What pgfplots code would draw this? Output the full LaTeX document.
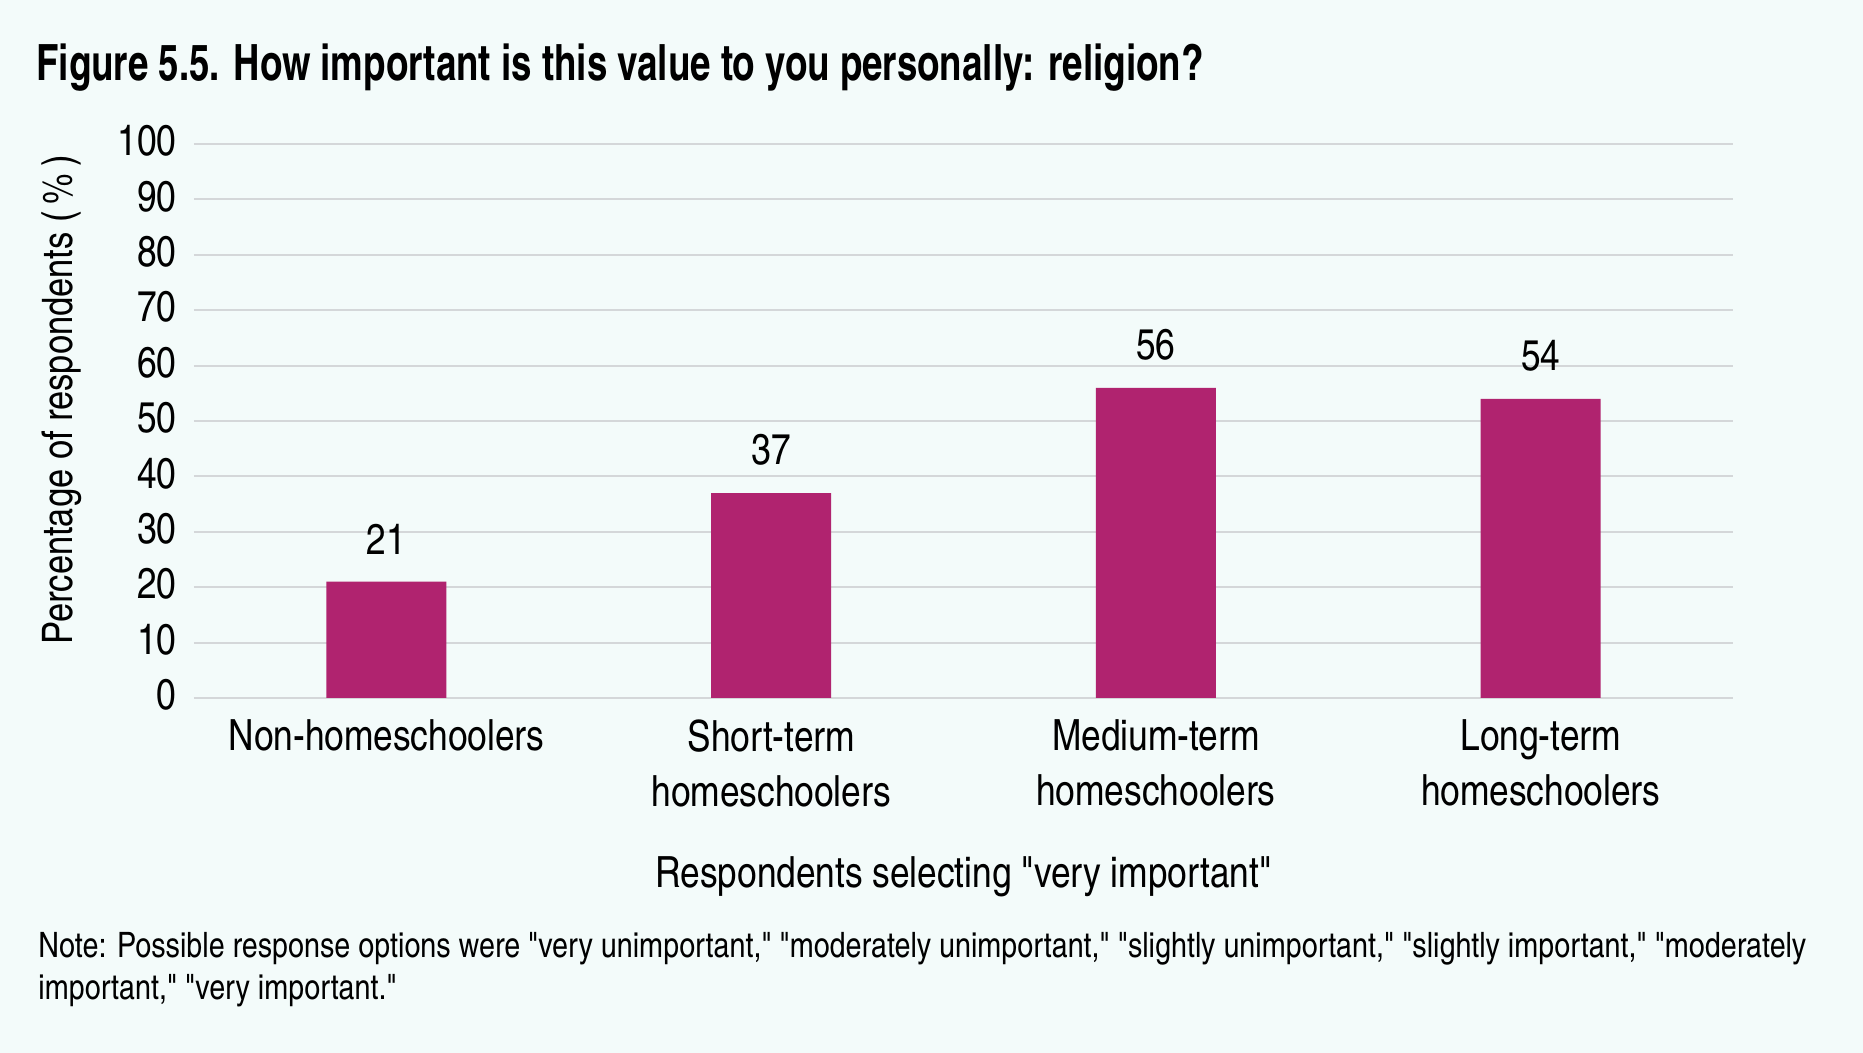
\documentclass[border=0pt]{standalone}
\usepackage{fontspec}
\newfontfamily\cn{texgyreheroscn}[Extension=.otf, UprightFont=*-regular, BoldFont=*-bold, ItalicFont=*-italic, BoldItalicFont=*-bolditalic]
\newfontfamily\cnt{texgyreheroscn}[Extension=.otf, UprightFont=*-bold, FakeStretch=0.895]
\usepackage{pgfplots}
\pgfplotsset{compat=1.18}
\definecolor{bgc}{HTML}{F3FBFA}
\definecolor{barc}{HTML}{B0236F}
\definecolor{gridc}{HTML}{D4D7D9}
\newcommand{\lab}{\cn\fontsize{21.5}{27.5}\selectfont}
\begin{document}
\cn
\begin{tikzpicture}
\useasboundingbox (0,0) rectangle (931.5pt,526.5pt);
\fill[bgc] (0,0) rectangle (931.5pt,526.5pt);
\begin{axis}[
  scale only axis,
  width=769.5pt, height=277pt,
  at={(97pt,177.5pt)}, anchor=south west,
  xmin=-0.5, xmax=3.5, ymin=0, ymax=100,
  ytick={0,10,...,100},
  xtick={0,1,2,3},
  xticklabels={Non-homeschoolers, {Short-term\\homeschoolers}, {Medium-term\\homeschoolers}, {Long-term\\homeschoolers}},
  /pgf/number format/assume math mode=true,
  axis line style={draw=none},
  major tick length=0pt,
  ymajorgrids,
  grid style={color=gridc, line width=1pt},
  ticklabel style={font=\lab, text=black},
  yticklabel style={anchor=east, inner sep=0pt, xshift=-8.5pt, yshift=1.5pt},
  xticklabel style={anchor=north, inner sep=0pt, yshift=-10.8pt, align=center},
  xlabel={Respondents selecting "very important"},
  xlabel style={font=\lab, at={(axis description cs:0.5,0)}, anchor=base, inner sep=0pt, yshift=-95pt},
  ylabel={Percentage of respondents (\,\%\,)},
  ylabel style={font=\cn\fontsize{21}{27}\selectfont, at={(axis description cs:0,0.538)}, anchor=base, inner sep=0pt, yshift=60.5pt},
  ybar, bar width=60pt,
  nodes near coords,
  every node near coord/.append style={font=\lab, text=black, anchor=south, inner sep=0pt, yshift=13.5pt},
]
\addplot[fill=barc, draw=none] coordinates {(0,21) (1,37) (2,56) (3,54)};
\end{axis}
\node[anchor=base west, inner sep=0pt, font=\cnt\fontsize{25}{30}\selectfont] at (18pt,486pt) {Figure 5.5. How important is this value to you personally: religion?};
\node[anchor=base west, inner sep=0pt, font=\cn\fontsize{17.5}{21}\selectfont] at (19pt,47.5pt) {Note: Possible response options were "very unimportant," "moderately unimportant," "slightly unimportant," "slightly important," "moderately};
\node[anchor=base west, inner sep=0pt, font=\cn\fontsize{17.5}{21}\selectfont] at (19pt,26.5pt) {important," "very important."};
\end{tikzpicture}
\end{document}
